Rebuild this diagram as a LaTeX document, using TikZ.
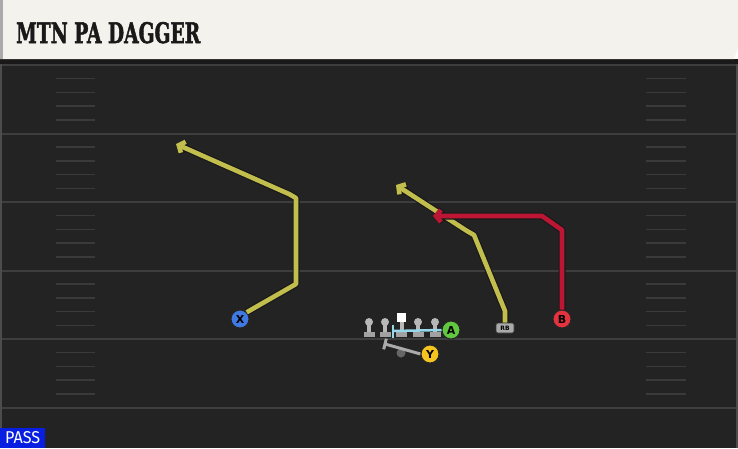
\documentclass[tikz,border=0pt]{standalone}
\usepackage{fontspec}
\setmainfont{DejaVu Sans}
\newfontfamily\titlefont[FakeBold=2]{DejaVu Serif Bold}
\newfontfamily\tagfont{Fira Sans}
\usetikzlibrary{arrows.meta}
\definecolor{fieldbg}{RGB}{35,35,35}
\definecolor{yardln}{RGB}{62,62,62}
\definecolor{hashln}{RGB}{58,58,58}
\definecolor{headbg}{RGB}{244,242,236}
\definecolor{routeyel}{RGB}{193,190,78}
\definecolor{routered}{RGB}{188,22,52}
\definecolor{xblue}{RGB}{62,122,226}
\definecolor{agreen}{RGB}{96,200,62}
\definecolor{yyellow}{RGB}{244,196,32}
\definecolor{bred}{RGB}{228,50,62}
\definecolor{passblue}{RGB}{8,30,225}
\definecolor{blockcyan}{RGB}{150,215,235}
\definecolor{olgray}{RGB}{170,170,170}
\begin{document}
\begin{tikzpicture}[x=1pt,y=-1pt,
    routeedge/.style={line width=7pt,draw=black!90,line join=round,
      -{Straight Barb[length=5pt,width=12pt]}},
    route/.style={line width=4.6pt,line join=round,
      -{Straight Barb[length=5pt,width=12pt]}},
    player/.style={circle,draw=black!85,line width=1pt,inner sep=0pt,
      minimum size=18pt,font=\bfseries\fontsize{11}{11}\selectfont},
    hashmark/.style={draw=hashln,line width=1.5pt}]
  \useasboundingbox (0,0) rectangle (738,448);
  %field
  \fill[fieldbg] (0,59) rectangle (738,448);
  \foreach \k in {0,...,5}
    \draw[yardln,line width=2pt] (0,65+68.5*\k) -- (738,65+68.5*\k);
  \foreach \k in {0,...,4}
    \foreach \j in {1,...,4} {
      \draw[hashmark] (56,65+68.5*\k+13.7*\j) -- (95,65+68.5*\k+13.7*\j);
      \draw[hashmark] (646,65+68.5*\k+13.7*\j) -- (686,65+68.5*\k+13.7*\j);
    }
  \draw[black!70,line width=2pt] (1,59) -- (1,448);
  \draw[black!70,line width=2pt] (737,59) -- (737,448);
  %header
  \fill[black!90] (0,59) rectangle (738,64);
  \fill[headbg] (0,0) -- (738,0) -- (738,48) -- (734,59) -- (0,59) -- cycle;
  \fill[olgray] (0,0) rectangle (3,59);
  \node[anchor=base west,inner sep=0pt,text=black!90] (title) at (16,43)
    {\resizebox{184pt}{21pt}{\titlefont MTN PA DAGGER}};
  %players
  \node[player,fill=xblue] (X) at (240,319) {X};
  \node[player,fill=bred] (B) at (562,319) {B};
  \node[rounded corners=2pt,fill=olgray,draw=black!80,line width=0.6pt,
    minimum width=18pt,minimum height=10pt,inner sep=0pt,
    font=\bfseries\fontsize{6}{6}\selectfont] (RB) at (505,328) {RB};
  %linea
  \fill[black!60] (401,353) circle (4.5);
  \foreach \lx in {369,385,418,435} {
    \fill[olgray!85] (\lx,322) circle (4);
    \fill[olgray!85] (\lx-2,322) rectangle (\lx+2,333);
    \fill[olgray!110] (\lx-5.5,332) rectangle (\lx+5.5,337);
  }
  \fill[white] (397,313) rectangle (406,322);
  \fill[olgray!85] (399.5,322) rectangle (403.5,333);
  \fill[olgray!110] (396,332) rectangle (407,337);
  \node[player,fill=agreen] (A) at (451,330) {A};
  \coordinate (ablk) at (393,331);
  \coordinate (yblk) at (385,344);
  \draw[blockcyan,line width=2.5pt] (A.west) -- (ablk);
  \draw[blockcyan,line width=2.5pt] (393,325) -- (393,338);
  \node[player,fill=yyellow] (Y) at (430,354) {Y};
  \draw[olgray,line width=3pt] (Y.west) -- (yblk);
  \draw[olgray,line width=3pt] (386.3,338.7) -- (383.7,349.3);
  \node[player,fill=yyellow] at (Y) {Y};
  %routes
  \coordinate (x1) at (296,284);
  \coordinate (x2) at (296,198);
  \coordinate (x3) at (289,194);
  \coordinate (xend) at (176,144);
  \coordinate (r1) at (505,311);
  \coordinate (r2) at (474,235);
  \coordinate (r3) at (467,231);
  \coordinate (rend) at (396,185);
  \coordinate (b1) at (562,230);
  \coordinate (b2) at (542,216);
  \coordinate (bend) at (433,216);
  \draw[routeedge] (X.north east) -- (x1) -- (x2) -- (x3) -- (xend);
  \draw[route,routeyel] (X.north east) -- (x1) -- (x2) -- (x3) -- (xend);
  \draw[routeedge] (RB.north) -- (r1) -- (r2) -- (r3) -- (rend);
  \draw[route,routeyel] (RB.north) -- (r1) -- (r2) -- (r3) -- (rend);
  \draw[routeedge] (B.north) -- (b1) -- (b2) -- (bend);
  \draw[route,routered] (B.north) -- (b1) -- (b2) -- (bend);
  %tag
  \node[fill=passblue,text=white,anchor=south west,inner xsep=5pt,inner ysep=4pt,
    minimum height=20pt] (pass) at (0,448)
    {\resizebox{35pt}{12pt}{\tagfont PASS}};
\end{tikzpicture}
\end{document}
